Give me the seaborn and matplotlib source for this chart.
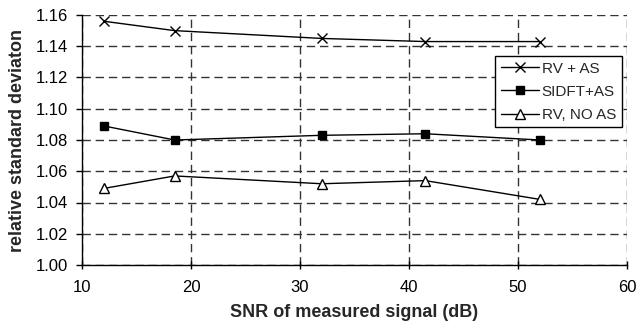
import pandas as pd
import matplotlib.pyplot as plt
import seaborn as sns

# Data
snr = [12, 18.5, 32, 41.5, 52]
rv_as = [1.156, 1.150, 1.145, 1.143, 1.143]
sidft_as = [1.089, 1.080, 1.083, 1.084, 1.080]
rv_no_as = [1.049, 1.057, 1.052, 1.054, 1.042]
series_names = ["RV + AS", "SIDFT+AS", "RV, NO AS"]

df = pd.DataFrame({
    "snr": snr * 3,
    "value": rv_as + sidft_as + rv_no_as,
    "series": [n for n in series_names for _ in snr],
})

sns.set_style("white")
plt.rcParams["font.family"] = ["Liberation Sans", "DejaVu Sans"]

fig = plt.figure(figsize=(6.38, 3.21), dpi=100)
ax = fig.add_axes([82 / 638, 1 - 265 / 321, (627 - 82) / 638, (265 - 15) / 321])

styles = {
    "RV + AS": dict(marker="x", markersize=6.5, mfc="black", mec="black", mew=1.0),
    "SIDFT+AS": dict(marker="s", markersize=5.5, mfc="black", mec="black", mew=1.0),
    "RV, NO AS": dict(marker="^", markersize=6.5, mfc="white", mec="black", mew=1.0),
}
for name in series_names:
    sub = df[df["series"] == name]
    sns.lineplot(data=sub, x="snr", y="value", color="black", linewidth=1.0,
                 label=name, ax=ax, **styles[name])

ax.set_xlim(10, 60)
ax.set_ylim(1.00, 1.16)
ax.set_xticks(range(10, 61, 10))
ax.set_yticks([1.00 + 0.02 * i for i in range(9)])
ax.set_yticklabels([f"{1.00 + 0.02 * i:.2f}" for i in range(9)])
ax.grid(True, linestyle=(0, (6, 3.5)), color="#333333", linewidth=1.0)

for s in ["top", "right"]:
    ax.spines[s].set_visible(False)
for s in ["left", "bottom"]:
    ax.spines[s].set_color("black")
    ax.spines[s].set_linewidth(1.0)

ax.tick_params(axis="y", labelsize=12, colors="black", length=4, width=1,
               direction="out", left=True, pad=6)
ax.tick_params(axis="x", labelsize=12, colors="black", length=6, width=1,
               direction="inout", bottom=True, pad=8)
ax.set_xlabel("SNR of measured signal (dB)", fontsize=13, fontweight="bold", labelpad=6)
ax.set_ylabel("relative standard deviaton", fontsize=13, fontweight="bold", labelpad=7)

leg = ax.legend(loc="upper right", bbox_to_anchor=(0.99, 0.835), fontsize=11,
                frameon=True, fancybox=False, framealpha=1, edgecolor="black",
                handlelength=2.5, borderpad=0.35, labelspacing=0.6,
                handletextpad=0.2, borderaxespad=0.0)
leg.get_frame().set_linewidth(1.0)

fig.savefig("out.png", dpi=100)
